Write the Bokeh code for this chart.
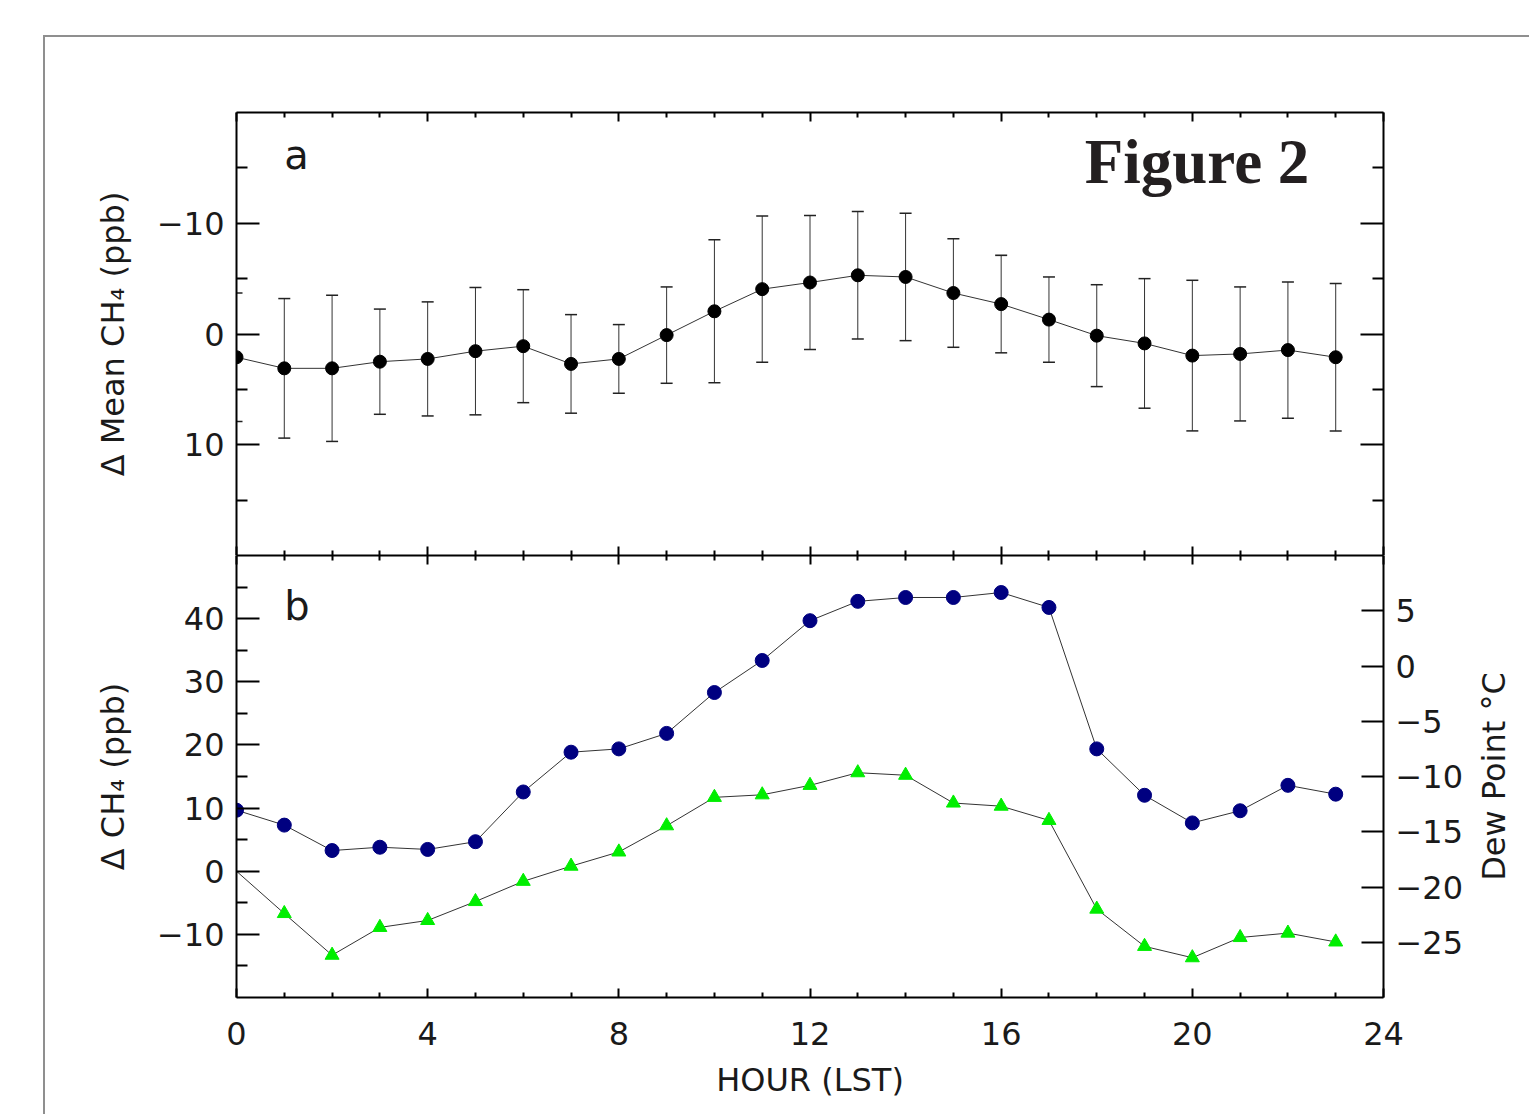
import math
from bokeh.plotting import figure
from bokeh.models import (Range1d, LinearAxis, FixedTicker, Whisker, TeeHead,
                          ColumnDataSource, Label, CustomJSTickFormatter,
                          CustomLabelingPolicy)
from bokeh.layouts import column, row
from bokeh.embed import file_html
from bokeh.resources import INLINE

# ---------------- data ----------------
hours = list(range(24))
# panel a: mean delta CH4 (ppb) and its standard deviation
mean_a = [2.1, 3.1, 3.1, 2.5, 2.25, 1.55, 1.1, 2.7, 2.25, 0.1, -2.05, -4.05,
          -4.65, -5.3, -5.15, -3.7, -2.7, -1.3, 0.15, 0.85, 1.95, 1.8, 1.45, 2.1]
sd_a = [5.8, 6.3, 6.6, 4.75, 5.15, 5.75, 5.1, 4.45, 3.1, 4.35, 6.45, 6.6,
        6.05, 5.75, 5.75, 4.9, 4.4, 3.85, 4.6, 5.85, 6.8, 6.05, 6.15, 6.65]
# panel b: delta CH4 (ppb, left axis) and dew point (deg C, right axis)
ch4_b = [0.0, -6.7, -13.3, -8.9, -7.8, -4.8, -1.6, 0.8, 3.05, 7.2, 11.7, 12.1,
         13.6, 15.6, 15.2, 10.8, 10.3, 8.05, -6.0, -11.9, -13.7, -10.5, -9.8, -11.2]
dew_b = [-13.05, -14.4, -16.7, -16.4, -16.6, -15.9, -11.4, -7.8, -7.5, -6.1, -2.4, 0.5,
         4.1, 5.85, 6.2, 6.2, 6.65, 5.3, -7.5, -11.7, -14.2, -13.1, -10.8, -11.6]

x_major = [0, 4, 8, 12, 16, 20, 24]
x_minor = [h for h in range(1, 24) if h % 4 != 0]
ya_major = [-10, 0, 10]
ya_minor = [-15, -5, 5, 15]
yb_major = [-10, 0, 10, 20, 30, 40]
yb_minor = [-15, -5, 5, 15, 25, 35, 45]
dew_major = [-25, -20, -15, -10, -5, 0, 5]

FONT = "DejaVu Sans"
TXT = "#1a1a1a"
minus_fmt = CustomJSTickFormatter(code="return tick < 0 ? '\u2212' + Math.abs(tick) : String(tick)")
no_labels = CustomLabelingPolicy(code="for (const i of indices) { indices.unset(i) }\nreturn indices")


def style_axis(ax, major, minor, labels, major_len, minor_len):
    ax.ticker = FixedTicker(ticks=major, minor_ticks=minor)
    ax.axis_line_width = 2
    ax.axis_line_color = "black"
    ax.major_tick_line_width = 2
    ax.minor_tick_line_width = 2
    ax.major_tick_line_color = "black"
    ax.minor_tick_line_color = "black"
    ax.major_tick_in = major_len
    ax.major_tick_out = 0
    ax.minor_tick_in = minor_len
    ax.minor_tick_out = 0
    if labels:
        ax.formatter = minus_fmt
        ax.major_label_text_font = FONT
        ax.major_label_text_font_size = "32px"
        ax.major_label_text_color = TXT
    else:
        ax.major_label_text_font_size = "0px"
        ax.major_label_standoff = 0
        ax.major_label_policy = no_labels
    ax.axis_label_text_font = FONT
    ax.axis_label_text_font_size = "32px"
    ax.axis_label_text_font_style = "normal"
    ax.axis_label_text_color = TXT


LEFT = 191
FRAME_W = 1147
W1 = 1484                 # panel a canvas width
W2 = LEFT + FRAME_W + 90  # panel b canvas width (right border holds tick labels)
W3 = W1 - W2              # narrow strip that carries the right-hand title

# ---------------- panel a ----------------
p1 = figure(width=W1, height=518, output_backend="svg", toolbar_location=None,
            x_range=Range1d(0, 24), y_range=Range1d(20, -20),
            x_axis_location=None, y_axis_location=None,
            min_border_left=LEFT, min_border_right=W1 - LEFT - FRAME_W,
            min_border_top=75, min_border_bottom=0)
p1.outline_line_color = None
p1.grid.visible = False
p1.background_fill_color = "white"
p1.border_fill_color = "white"

ax = LinearAxis(axis_label="Δ Mean CH₄ (ppb)")
style_axis(ax, ya_major, ya_minor, True, 23, 11)
ax.major_label_standoff = 12
ax.axis_label_standoff = 22
p1.add_layout(ax, "left")
ax = LinearAxis()
style_axis(ax, ya_major, ya_minor, False, 23, 11)
p1.add_layout(ax, "right")
ax = LinearAxis()
style_axis(ax, x_major, x_minor, False, 9, 5)
p1.add_layout(ax, "above")
ax = LinearAxis()
style_axis(ax, x_major, x_minor, False, 9, 5)
p1.add_layout(ax, "below")

src_a = ColumnDataSource(dict(hour=hours, mean=mean_a,
                              upper=[m + s for m, s in zip(mean_a, sd_a)],
                              lower=[m - s for m, s in zip(mean_a, sd_a)]))
wh = Whisker(source=src_a, base="hour", upper="upper", lower="lower",
             line_color="#333333", line_width=1, level="underlay",
             upper_head=TeeHead(size=12, line_color="#222222", line_width=1.5),
             lower_head=TeeHead(size=12, line_color="#222222", line_width=1.5))
p1.add_layout(wh)
p1.line("hour", "mean", source=src_a, line_color="#333333", line_width=1)
p1.scatter("hour", "mean", source=src_a, size=13, marker="circle",
           fill_color="black", line_color="black")

p1.add_layout(Label(x=1.0, y=-16.2, text="a", text_font=FONT, text_font_size="40px",
                    text_color=TXT, text_baseline="alphabetic", text_align="left"))
p1.add_layout(Label(x=17.75, y=-15.5, text="Figure 2", text_font="Liberation Serif",
                    text_font_style="bold", text_font_size="63px", text_color="#231f20",
                    text_baseline="alphabetic", text_align="left"))

# ---------------- panel b ----------------
p2 = figure(width=W2, height=559, output_backend="svg", toolbar_location=None,
            x_range=p1.x_range, y_range=Range1d(-20, 50),
            x_axis_location=None, y_axis_location=None,
            min_border_left=LEFT, min_border_right=W2 - LEFT - FRAME_W,
            min_border_top=0, min_border_bottom=117)
p2.extra_y_ranges = {"dew": Range1d(-30, 10)}
p2.outline_line_color = None
p2.grid.visible = False
p2.background_fill_color = "white"
p2.border_fill_color = "white"

ax = LinearAxis(axis_label="Δ CH₄ (ppb)")
style_axis(ax, yb_major, yb_minor, True, 23, 11)
ax.major_label_standoff = 12
ax.axis_label_standoff = 22
p2.add_layout(ax, "left")
ax = LinearAxis(y_range_name="dew")
style_axis(ax, dew_major, [], True, 22, 0)
ax.major_label_standoff = 12
p2.add_layout(ax, "right")
ax = LinearAxis()
style_axis(ax, x_major, x_minor, False, 9, 5)
p2.add_layout(ax, "above")
ax = LinearAxis(axis_label="HOUR (LST)")
style_axis(ax, x_major, x_minor, True, 9, 5)
ax.major_label_standoff = 24
ax.axis_label_standoff = 13
p2.add_layout(ax, "below")

src_b = ColumnDataSource(dict(hour=hours, ch4=ch4_b, dew=dew_b))
src_tri = ColumnDataSource(dict(hour=hours[1:], ch4=ch4_b[1:]))
p2.line("hour", "dew", source=src_b, y_range_name="dew", line_color="#333333", line_width=1)
p2.line("hour", "ch4", source=src_b, line_color="#333333", line_width=1)
p2.scatter("hour", "dew", source=src_b, y_range_name="dew", size=14, marker="circle",
           fill_color="#000080", line_color="#000080")
p2.scatter("hour", "ch4", source=src_tri, size=14, marker="triangle",
           fill_color="#00ee00", line_color="#00ee00")

p2.add_layout(Label(x=1.0, y=42.0, text="b", text_font=FONT, text_font_size="40px",
                    text_color=TXT, text_baseline="alphabetic", text_align="left"))

# ---------------- right-hand title strip (reads bottom to top) ----------------
p3 = figure(width=W3, height=559, output_backend="svg", toolbar_location=None,
            x_range=Range1d(0, W3), y_range=Range1d(-30, 10),
            x_axis_location=None, y_axis_location=None,
            min_border_left=0, min_border_right=0,
            min_border_top=0, min_border_bottom=117)
p3.outline_line_color = None
p3.grid.visible = False
p3.background_fill_color = "white"
p3.border_fill_color = "white"
p3.add_layout(Label(x=20, y=-10, text="Dew Point °C", angle=math.pi / 2,
                    text_font=FONT, text_font_size="32px", text_color=TXT,
                    text_align="center", text_baseline="middle"))

root = column(p1, row(p2, p3, spacing=0), spacing=0, margin=(35, 0, 0, 43),
              styles={"border-top": "2px solid #8f8f8f", "border-left": "2px solid #8f8f8f"})

open("out.html", "w").write(file_html(root, INLINE))
